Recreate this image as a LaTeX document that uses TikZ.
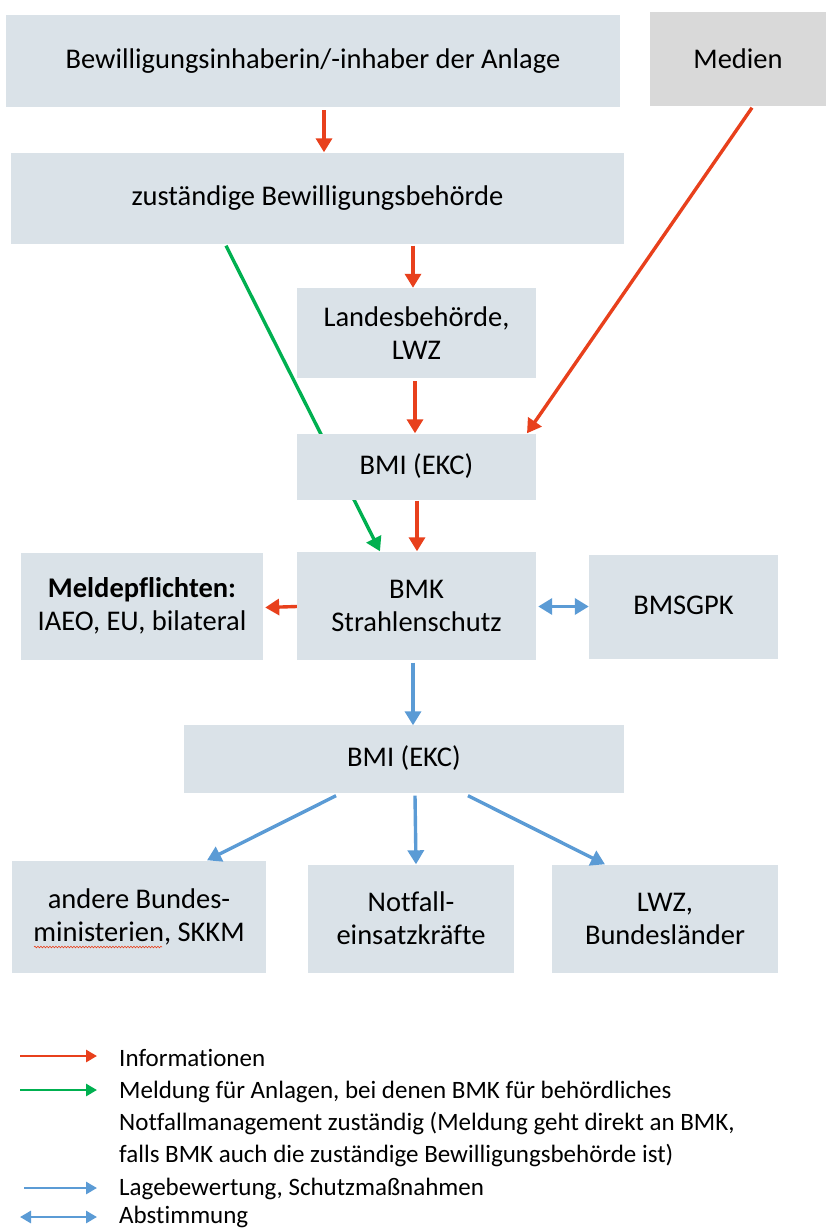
\documentclass[tikz,border=0pt]{standalone}
\usepackage{fontspec}
\setmainfont[Ligatures=NoCommon]{Carlito}
\usetikzlibrary{arrows.meta,backgrounds,decorations.pathmorphing}
\definecolor{boxfill}{HTML}{DAE2E8}
\definecolor{grayfill}{HTML}{D9D9D9}
\definecolor{infored}{HTML}{E8401C}
\definecolor{meldgreen}{HTML}{00B050}
\definecolor{lageblue}{HTML}{5B9BD5}
\begin{document}
\begin{tikzpicture}[x=1pt,y=-1pt,
  box/.style={fill=boxfill,draw=none,inner sep=0pt,align=center,
    font=\fontsize{28.5}{33}\selectfont},
  graybox/.style={box,fill=grayfill},
  conn/.style={line width=3.4pt,-{Triangle[length=14pt,width=16pt]}},
  red/.style={conn,draw=infored},
  grn/.style={conn,draw=meldgreen},
  blu/.style={conn,draw=lageblue},
  dblu/.style={line width=3.4pt,draw=lageblue,{Triangle[length=14pt,width=16pt]}-{Triangle[length=14pt,width=16pt]}},
  legarrow/.style={line width=2.8pt,-{Triangle[length=11pt,width=12pt]}},
  legtext/.style={anchor=west,inner sep=0pt,font=\fontsize{25}{32}\selectfont,align=left},
]
\useasboundingbox (0,0) rectangle (826,1231);

% boxes
\node[box,minimum width=614,minimum height=92] (inh) at (313,61) {Bewilligungsinhaberin/-inhaber der Anlage};
\node[graybox,minimum width=176,minimum height=93] (med) at (738,59) {Medien};
\node[box,minimum width=613,minimum height=91] (bew) at (317.5,198) {zuständige Bewilligungsbehörde};
\node[box,minimum width=239,minimum height=90] (lan) at (416.5,333) {Landesbehörde,\\LWZ};
\node[box,minimum width=239,minimum height=66] (bmi1) at (416.5,466.5) {BMI (EKC)};
\node[box,minimum width=239,minimum height=108] (bmk) at (416.5,605.5) {BMK\\Strahlenschutz};
\node[box,minimum width=242,minimum height=107] (mel) at (142,606) {\textbf{Meldepflichten:}\\IAEO, EU, bilateral};
\node[box,minimum width=189,minimum height=104,text depth=0pt] (sgp) at (683.5,607) {\raisebox{3pt}{BMSGPK}};
\node[box,minimum width=440,minimum height=68] (bmi2) at (404,758.5) {BMI (EKC)};
\node[box,minimum width=254,minimum height=112] (and) at (139,916.5) {andere Bundes-\\ministerien, SKKM};
\node[box,minimum width=206,minimum height=108] (not) at (411,918.5) {Notfall-\\einsatzkräfte};
\node[box,minimum width=226,minimum height=108] (lwz) at (665,918.5) {LWZ,\\Bundesländer};

% spell-check underline
\draw[infored,line width=0.6pt,decorate,decoration={snake,segment length=3pt,amplitude=0.8pt}] (34,947) -- (162,947);

% connectors
\draw[red] ([xshift=11pt,yshift=-3pt]inh.south) -- ([xshift=6.5pt]bew.north);
\draw[red] ([xshift=95.5pt,yshift=-2pt]bew.south) -- ([xshift=-3.5pt]lan.north);
\draw[red] ([xshift=-1.5pt,yshift=-3pt]lan.south) -- ([xshift=-1.5pt]bmi1.north);
\draw[red] ([xshift=14pt,yshift=-2pt]med.south) -- ([xshift=110.5pt]bmi1.north);
\begin{scope}[on background layer]
\draw[grn] ([xshift=-91.5pt,yshift=-2pt]bew.south) -- ([xshift=-36.5pt]bmk.north);
\end{scope}
\draw[red] ([xshift=0.5pt,yshift=-1pt]bmi1.south) -- ([xshift=0.5pt]bmk.north);
\draw[red] ([yshift=-1pt]bmk.west) -- ([xshift=2pt,yshift=-1.5pt]mel.east);
\draw[dblu] ([xshift=2pt,yshift=-1pt]bmk.east) -- ([yshift=-1pt]bmk.east -| sgp.west);
\draw[blu] ([xshift=-3.5pt,yshift=-3pt]bmk.south) -- ([xshift=9pt,yshift=-1pt]bmi2.north);
\draw[blu] ([xshift=-68pt,yshift=-3pt]bmi2.south) -- ([xshift=68pt]and.north);
\draw[blu] ([xshift=11pt,yshift=-3pt]bmi2.south) -- ([xshift=5pt]not.north);
\draw[blu] ([xshift=64pt,yshift=-3pt]bmi2.south) -- ([xshift=-60pt]lwz.north);

% legend
\coordinate (l1a) at (20,1056); \coordinate (l1b) at (97,1056);
\coordinate (l2a) at (20,1090); \coordinate (l2b) at (97,1090);
\coordinate (l3a) at (24,1188); \coordinate (l3b) at (97,1188);
\coordinate (l4a) at (20,1217); \coordinate (l4b) at (97,1217);
\draw[legarrow,draw=infored] (l1a) -- (l1b);
\draw[legarrow,draw=meldgreen] (l2a) -- (l2b);
\draw[legarrow,draw=lageblue] (l3a) -- (l3b);
\draw[line width=2.8pt,draw=lageblue,{Triangle[length=11pt,width=12pt]}-{Triangle[length=11pt,width=12pt]}] (l4a) -- (l4b);
\node[legtext] (t1) at (119,1058) {Informationen};
\node[legtext,anchor=north west] (t2) at (119,1081) {Meldung für Anlagen, bei denen BMK für behördliches\\Notfallmanagement zuständig (Meldung geht direkt an BMK,\\falls BMK auch die zuständige Bewilligungsbehörde ist)};
\node[legtext] (t3) at (119,1189) {Lagebewertung, Schutzmaßnahmen};
\node[legtext] (t4) at (119,1217) {Abstimmung};
\end{tikzpicture}
\end{document}
